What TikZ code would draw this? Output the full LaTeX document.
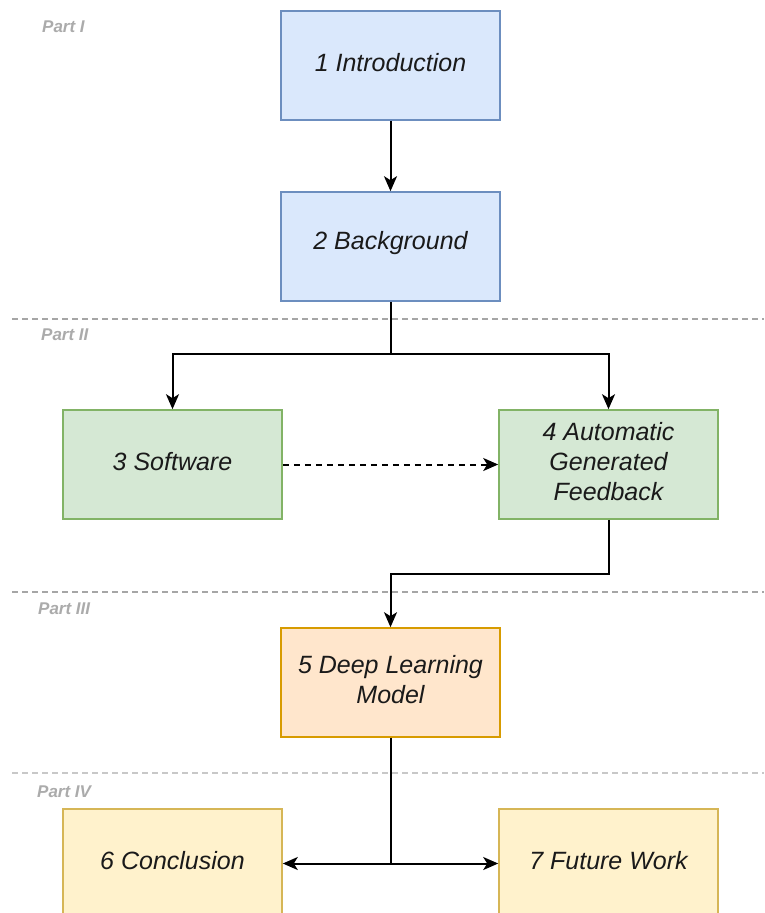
\documentclass[tikz,border=0pt]{standalone}
\usepackage{fontspec}
\setmainfont{Liberation Sans}
\usetikzlibrary{arrows.meta}

\definecolor{blueFill}{HTML}{DAE8FC}
\definecolor{blueLine}{HTML}{6C8EBF}
\definecolor{greenFill}{HTML}{D5E8D4}
\definecolor{greenLine}{HTML}{82B366}
\definecolor{orangeFill}{HTML}{FFE6CC}
\definecolor{orangeLine}{HTML}{D79B00}
\definecolor{yellowFill}{HTML}{FFF2CC}
\definecolor{yellowLine}{HTML}{D6B656}
\definecolor{partGray}{HTML}{ABABAB}
\definecolor{sepGray}{HTML}{A6A6A6}
\definecolor{sepLight}{HTML}{C8C8C8}
\definecolor{txt}{HTML}{1A1A1A}

\tikzset{
  chapter/.style={rectangle, draw, line width=1.6pt, minimum width=219pt,
    minimum height=109pt, inner sep=0pt},
  chaptext/.style={inner sep=0pt, align=center, text=txt, yshift=3pt,
    font=\fontsize{25}{30}\selectfont\itshape},
  partI/.style={chapter, fill=blueFill, draw=blueLine},
  partII/.style={chapter, fill=greenFill, draw=greenLine},
  partIII/.style={chapter, fill=orangeFill, draw=orangeLine},
  partIV/.style={chapter, fill=yellowFill, draw=yellowLine},
  partlabel/.style={anchor=west, inner sep=0pt, text=partGray,
    font=\fontsize{17}{20}\selectfont\bfseries\itshape},
  separator/.style={line width=2pt, draw=sepGray, dash pattern=on 6pt off 4pt},
  flow/.style={line width=2pt, draw=black,
    -{Stealth[length=15pt,width=13pt,inset=4pt]}},
}

\begin{document}
\begin{tikzpicture}[x=1pt,y=-1pt]
  \useasboundingbox (0,0) rectangle (764,913);
  \clip (0,0) rectangle (764,913);

  % section separators
  \draw[separator] (12,319) -- (764,319);
  \draw[separator] (12,592) -- (764,592);
  \draw[separator, draw=sepLight] (12,773) -- (764,773);

  % part labels
  \node[partlabel] (lbl1) at (42,27)  {Part I};
  \node[partlabel] (lbl2) at (41,335) {Part II};
  \node[partlabel] (lbl3) at (38,609) {Part III};
  \node[partlabel] (lbl4) at (37,792) {Part IV};

  % chapter boxes, titles set slightly above centre
  \node[partI, label={[chaptext]center:1 Introduction}]   (b1) at (390.5,65.5)  {};
  \node[partI, label={[chaptext]center:2 Background}]     (b2) at (390.5,246.5) {};
  \node[partII, label={[chaptext]center:3 Software}]      (b3) at (172.5,464.5) {};
  \node[partII, label={[chaptext]center:{4 Automatic\\Generated\\Feedback}}] (b4) at (608.5,464.5) {};
  \node[partIII, label={[chaptext]center:{5 Deep Learning\\Model}}] (b5) at (390.5,682.5) {};
  \node[partIV, label={[chaptext]center:6 Conclusion}]    (b6) at (172.5,863.5) {};
  \node[partIV, label={[chaptext]center:7 Future Work}]   (b7) at (608.5,863.5) {};

  % junction points
  \coordinate (j1) at (390.5,354);
  \coordinate (j2) at (390.5,574);

  % connectors
  \draw[flow] (b1) -- (b2);
  \draw[flow] (b2) -- (j1) -| (b3);
  \draw[flow] (j1) -| (b4);
  \draw[flow, dash pattern=on 6pt off 5pt] (b3) -- (b4);
  \draw[flow] (b4.south) |- (j2) -- (b5);
  \draw[flow] (b5) |- (b6);
  \draw[flow] (b5) |- (b7);
\end{tikzpicture}
\end{document}
